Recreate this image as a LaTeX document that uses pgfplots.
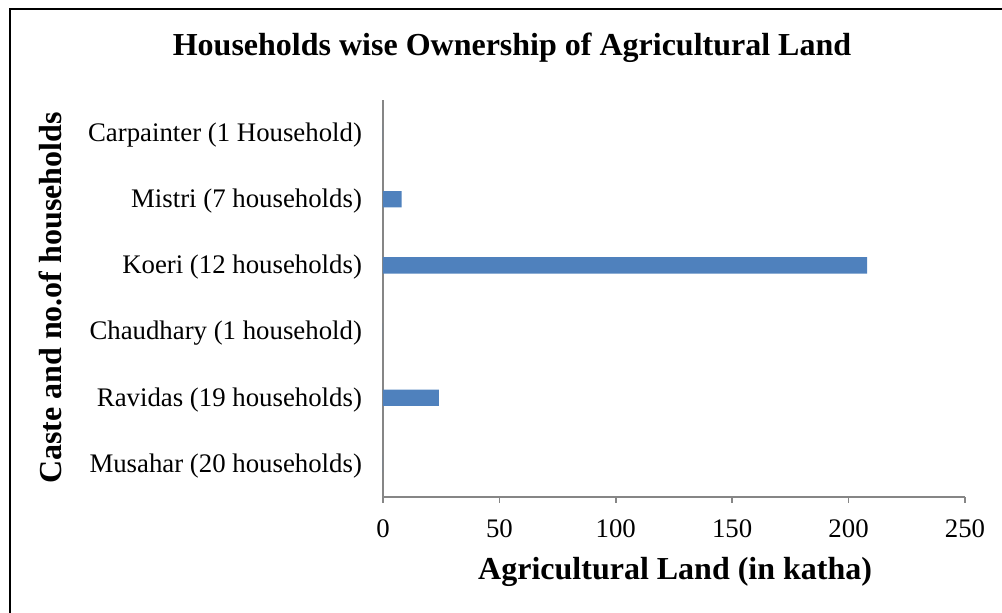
\documentclass[border=0pt]{standalone}
\usepackage{fontspec}
\setmainfont{Liberation Serif}
\usepackage{pgfplots}
\pgfplotsset{compat=1.18}
\definecolor{barblue}{HTML}{4F81BD}
\definecolor{axgray}{HTML}{868686}
\begin{document}
\begin{tikzpicture}
\useasboundingbox (0,0) rectangle (501pt,-306.5pt);
\draw[line width=1pt] (5pt,-306.5pt) -- (5pt,-4.75pt) -- (501pt,-4.75pt);
\node[font=\bfseries\fontsize{16}{19}\selectfont] at (256pt,-24pt) {Households wise Ownership of Agricultural Land};
\begin{axis}[
 at={(191.5pt,-248.5pt)}, anchor=south west,
 scale only axis, width=291pt, height=198.5pt,
 xbar, bar width=8.2pt,
 xmin=0, xmax=250, ymin=-0.5, ymax=5.5,
 xtick={0,50,...,250},
 ytick={0,...,5},
 yticklabels={Musahar (20 households), Ravidas (19 households), Chaudhary (1 household), Koeri (12 households), Mistri (7 households), Carpainter (1 Household)},
 axis lines*=left,
 axis line style={axgray, line width=0.75pt},
 x tick style={axgray, line width=0.75pt},
 tick align=outside, major tick length=3pt,
 y tick style={draw=none},
 tick label style={font=\fontsize{13.4}{15}\selectfont},
 /pgf/number format/assume math mode=true,
 yticklabel style={xshift=-4pt, yshift=-1pt},
 xticklabel style={yshift=-5pt},
 xlabel={Agricultural Land (in katha)},
 ylabel={Caste and no.of households},
 label style={font=\bfseries\fontsize{16}{19}\selectfont},
 xlabel style={at={(axis description cs:0.502,-0.189)}, anchor=center},
 ylabel style={at={(axis description cs:-0.572,0.501)}, anchor=center},
]
\addplot[fill=barblue, draw=none] coordinates {(0,0) (24,1) (0,2) (208,3) (8,4) (0,5)};
\end{axis}
\end{tikzpicture}
\end{document}
